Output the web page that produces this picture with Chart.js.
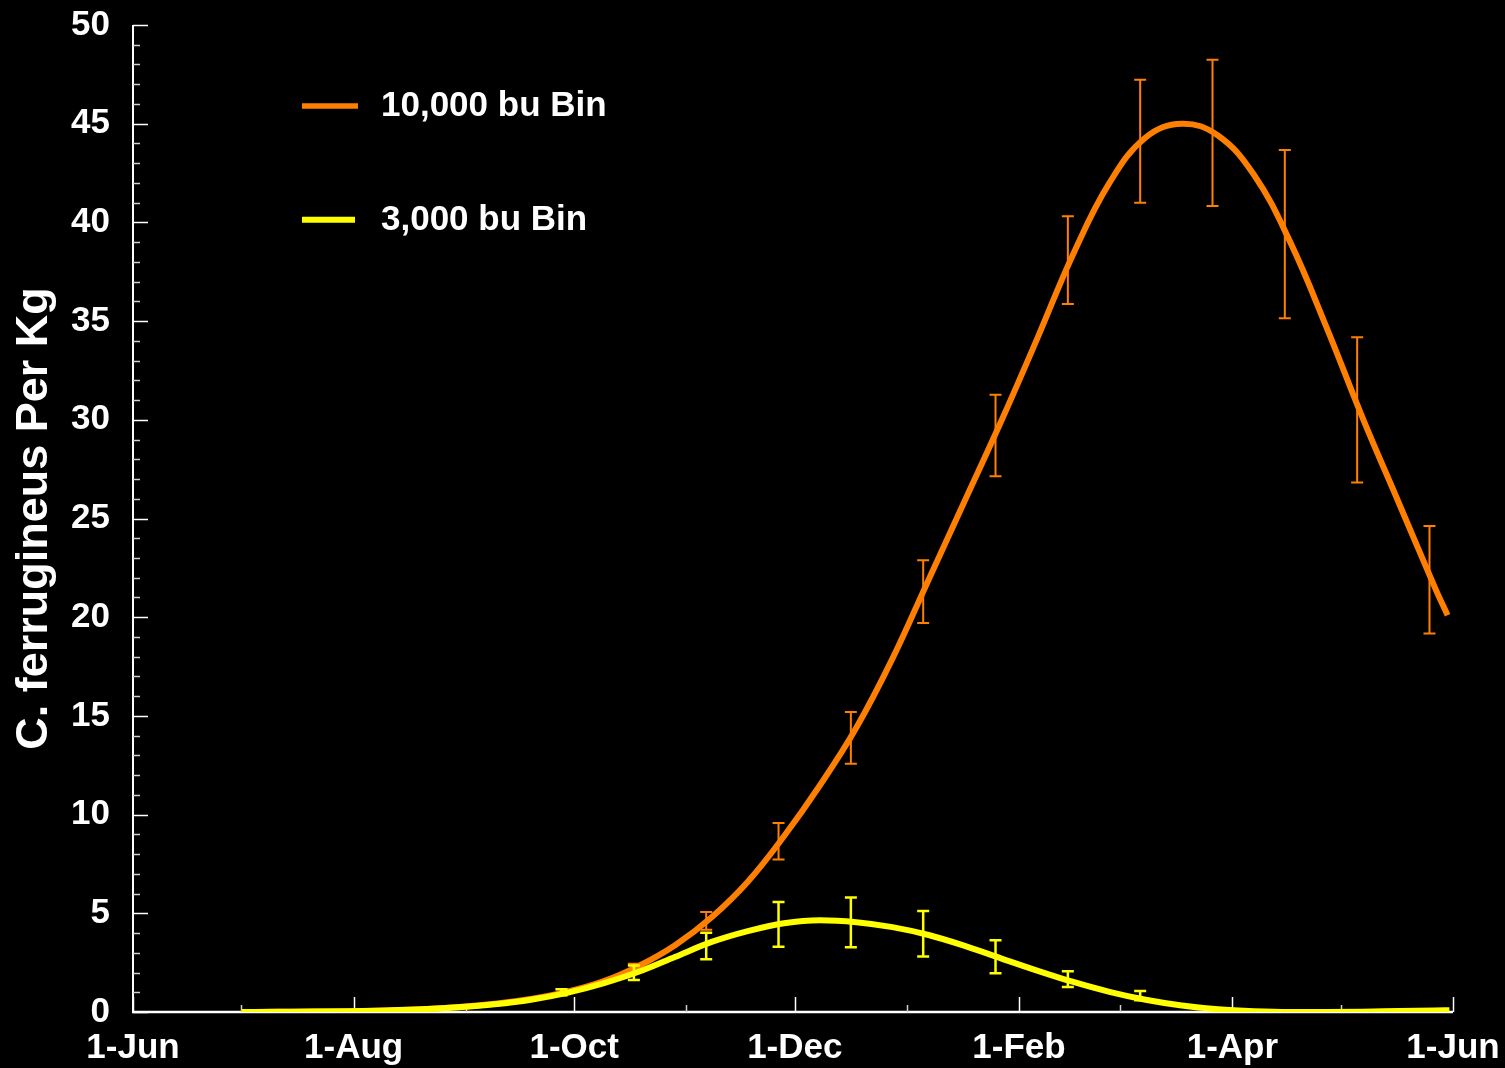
<!DOCTYPE html>
<html>
<head>
<meta charset="utf-8">
<title>C. ferrugineus Per Kg</title>
<script src="https://cdn.jsdelivr.net/npm/chart.js@4.4.0/dist/chart.umd.min.js"></script>
<style>
  html, body { margin: 0; padding: 0; background: #000; }
  #wrap { width: 1505px; height: 1068px; }
  canvas { display: block; }
</style>
</head>
<body>
<div id="wrap"><canvas id="chart" width="1505" height="1068"></canvas></div>
<script>
// x values are days counted from 1 June
const monthTickDays   = [0, 61, 122, 183, 245, 304, 365];
const monthTickLabels = ['1-Jun', '1-Aug', '1-Oct', '1-Dec', '1-Feb', '1-Apr', '1-Jun'];
const minorMonthDays  = [30, 92, 153, 214, 273, 334];

// Fitted population curve, 10,000 bu bin
const bigBinDays  = [30, 40, 50, 60, 70, 80, 90, 100, 110, 120, 130, 140, 150, 160, 170, 180, 190,
                     200, 210, 220, 230, 240, 250, 260, 270, 280, 290, 300, 310, 320, 330, 340, 350, 360, 363.5];
const bigBinCurve = [0, 0.01, 0.02, 0.04, 0.08, 0.14, 0.25, 0.42, 0.66, 1.02, 1.55, 2.35, 3.4, 4.8, 6.6, 8.9, 11.5,
                     14.4, 17.9, 21.9, 25.9, 29.9, 34.1, 38.4, 42.0, 44.3, 45.0, 44.4, 42.4, 39.0, 34.7, 30.1, 25.8, 21.5, 20.1];

// Fitted population curve, 3,000 bu bin
const smallBinDays  = [30, 40, 50, 60, 70, 80, 90, 100, 110, 120, 130, 140, 150, 160, 170, 180, 190,
                       200, 210, 220, 230, 240, 250, 260, 270, 280, 290, 300, 310, 320, 330, 340, 350, 360, 364];
const smallBinCurve = [0, 0.01, 0.02, 0.04, 0.08, 0.14, 0.24, 0.39, 0.62, 0.97, 1.45, 2.05, 2.8, 3.55, 4.1, 4.5, 4.65,
                       4.55, 4.3, 3.9, 3.35, 2.72, 2.1, 1.52, 1.02, 0.62, 0.33, 0.14, 0.04, 0, 0, 0.01, 0.05, 0.08, 0.09];

// Sampling dates and error ranges (low / high)
const bigSampleDays = [118.5, 138.5, 158.5, 178.5, 198.5, 218.5, 238.5, 258.5, 278.5, 298.5, 318.5, 338.5, 358.5];
const bigLow        = [0.85, 2.0, 4.17, 7.72, 12.58, 19.71, 27.14, 35.87, 41.0, 40.83, 35.14, 26.82, 19.18];
const bigHigh       = [1.15, 2.45, 5.07, 9.57, 15.2, 22.88, 31.27, 40.31, 47.23, 48.24, 43.67, 34.18, 24.62];

const smallSampleDays = [118.5, 138.5, 158.5, 178.5, 198.5, 218.5, 238.5, 258.5, 278.5];
const smallLow        = [0.85, 1.62, 2.67, 3.31, 3.28, 2.81, 1.96, 1.27, 0.59];
const smallHigh       = [1.15, 2.35, 4.02, 5.57, 5.80, 5.12, 3.63, 2.06, 1.06];

const ORANGE = '#FF8000';
const YELLOW = '#FFFF00';
const FONT = '"Liberation Sans", Arial, Helvetica, sans-serif';

const toPoints = (xs, ys) => xs.map((x, i) => ({ x: x, y: ys[i] }));

// Axis lines and inward-pointing tick marks
const axesPlugin = {
  id: 'innerAxes',
  beforeDatasetsDraw(chart) {
    const { ctx, chartArea: a, scales: { x, y } } = chart;
    ctx.save();
    ctx.strokeStyle = '#FFFFFF';
    ctx.lineCap = 'butt';
    // y axis line
    ctx.lineWidth = 2;
    ctx.beginPath();
    ctx.moveTo(a.left, a.top);
    ctx.lineTo(a.left, a.bottom);
    ctx.stroke();
    // x axis line
    ctx.lineWidth = 2.5;
    ctx.beginPath();
    ctx.moveTo(a.left - 1, a.bottom);
    ctx.lineTo(a.right, a.bottom);
    ctx.stroke();
    // y ticks: majors every 5, minors every 1
    ctx.lineWidth = 1.5;
    for (let v = 0; v <= 50; v++) {
      const py = Math.round(y.getPixelForValue(v)) + 0.5;
      const len = v % 5 === 0 ? 15 : 7;
      ctx.strokeStyle = v % 5 === 0 ? '#FFFFFF' : '#CFCFCF';
      ctx.beginPath();
      ctx.moveTo(a.left, py);
      ctx.lineTo(a.left + len, py);
      ctx.stroke();
    }
    // x ticks
    ctx.strokeStyle = '#FFFFFF';
    monthTickDays.forEach(d => {
      const px = Math.round(x.getPixelForValue(d)) + 0.5;
      ctx.beginPath();
      ctx.moveTo(px, a.bottom);
      ctx.lineTo(px, a.bottom - 15);
      ctx.stroke();
    });
    ctx.strokeStyle = '#CFCFCF';
    minorMonthDays.forEach(d => {
      const px = Math.round(x.getPixelForValue(d)) + 0.5;
      ctx.beginPath();
      ctx.moveTo(px, a.bottom);
      ctx.lineTo(px, a.bottom - 7);
      ctx.stroke();
    });
    ctx.restore();
  }
};

// Vertical error bars with caps, drawn right after their own curve
const errorBarPlugin = {
  id: 'errorBars',
  afterDatasetDraw(chart, args) {
    const ds = chart.data.datasets[args.index];
    if (!ds.errorBars) return;
    const { ctx, scales: { x, y } } = chart;
    const eb = ds.errorBars;
    ctx.save();
    ctx.strokeStyle = eb.color;
    ctx.lineWidth = eb.width;
    ctx.lineCap = 'butt';
    eb.days.forEach((d, i) => {
      const px = x.getPixelForValue(d);
      const yLo = y.getPixelForValue(eb.low[i]);
      const yHi = y.getPixelForValue(eb.high[i]);
      ctx.beginPath();
      ctx.moveTo(px, yLo);
      ctx.lineTo(px, yHi);
      ctx.moveTo(px - 6, yLo);
      ctx.lineTo(px + 6, yLo);
      ctx.moveTo(px - 6, yHi);
      ctx.lineTo(px + 6, yHi);
      ctx.stroke();
    });
    ctx.restore();
  }
};

// Legend inside the plot area
const legendPlugin = {
  id: 'innerLegend',
  afterDraw(chart) {
    const { ctx } = chart;
    const items = [
      { text: chart.data.datasets[1].label, color: ORANGE, x0: 302, x1: 358, ly: 106, lw: 5.5, ty: 116 },
      { text: chart.data.datasets[0].label, color: YELLOW, x0: 302, x1: 355, ly: 219.7, lw: 6, ty: 230 }
    ];
    ctx.save();
    items.forEach(it => {
      ctx.strokeStyle = it.color;
      ctx.lineWidth = it.lw;
      ctx.lineCap = 'butt';
      ctx.beginPath();
      ctx.moveTo(it.x0, it.ly);
      ctx.lineTo(it.x1, it.ly);
      ctx.stroke();
      ctx.fillStyle = '#FFFFFF';
      ctx.font = 'bold 35px ' + FONT;
      ctx.textAlign = 'left';
      ctx.textBaseline = 'alphabetic';
      ctx.fillText(it.text, 381, it.ty);
    });
    ctx.restore();
  }
};

const bgPlugin = {
  id: 'blackBackground',
  beforeDraw(chart) {
    const { ctx } = chart;
    ctx.save();
    ctx.fillStyle = '#000000';
    ctx.fillRect(0, 0, chart.width, chart.height);
    ctx.restore();
  }
};

new Chart(document.getElementById('chart').getContext('2d'), {
  type: 'line',
  data: {
    datasets: [
      {
        label: '3,000 bu Bin',
        data: toPoints(smallBinDays, smallBinCurve),
        borderColor: YELLOW,
        borderWidth: 6,
        pointRadius: 0,
        fill: false,
        cubicInterpolationMode: 'monotone',
        order: 0,
        errorBars: { days: smallSampleDays, low: smallLow, high: smallHigh, color: YELLOW, width: 2.5 }
      },
      {
        label: '10,000 bu Bin',
        data: toPoints(bigBinDays, bigBinCurve),
        borderColor: ORANGE,
        borderWidth: 6,
        pointRadius: 0,
        fill: false,
        tension: 0.4,
        order: 1,
        errorBars: { days: bigSampleDays, low: bigLow, high: bigHigh, color: ORANGE, width: 2 }
      }
    ]
  },
  options: {
    responsive: false,
    devicePixelRatio: 1,
    animation: false,
    events: [],
    layout: { padding: { top: 25, right: 52, left: 0, bottom: 0 } },
    plugins: { legend: { display: false }, tooltip: { enabled: false }, title: { display: false } },
    scales: {
      x: {
        type: 'linear',
        min: 0,
        max: 365,
        grid: { display: false, drawTicks: false },
        border: { display: false },
        afterBuildTicks: scale => { scale.ticks = monthTickDays.map(v => ({ value: v })); },
        afterFit: scale => {
          scale.height = 56;
          scale.paddingLeft = 0;
          scale.paddingRight = 0;
        },
        ticks: {
          autoSkip: false,
          maxRotation: 0,
          padding: 15,
          color: '#FFFFFF',
          font: { family: FONT, size: 35, weight: 'bold' },
          callback: v => monthTickLabels[monthTickDays.indexOf(v)]
        }
      },
      y: {
        type: 'linear',
        min: 0,
        max: 50,
        grid: { display: false, drawTicks: false },
        border: { display: false },
        afterFit: scale => {
          scale.width = 133;
          scale.paddingTop = 0;
          scale.paddingBottom = 0;
        },
        ticks: {
          stepSize: 5,
          padding: 23,
          color: '#FFFFFF',
          font: { family: FONT, size: 35, weight: 'bold' }
        },
        title: {
          display: true,
          text: 'C. ferrugineus Per Kg',
          color: '#FFFFFF',
          font: { family: FONT, size: 45, weight: 'bold', lineHeight: 1.2 },
          padding: { top: 8, bottom: 0 }
        }
      }
    }
  },
  plugins: [bgPlugin, axesPlugin, errorBarPlugin, legendPlugin]
});
</script>
</body>
</html>
